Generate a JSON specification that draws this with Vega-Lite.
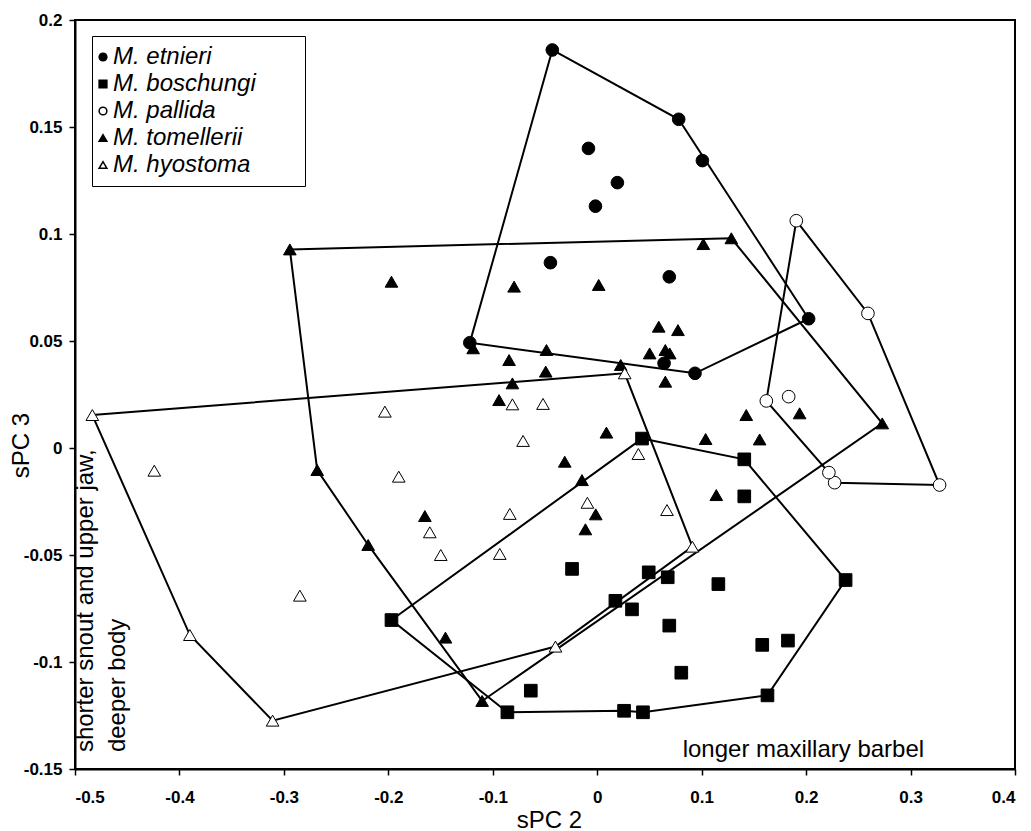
{
  "$schema": "https://vega.github.io/schema/vega-lite/v6.json",
  "width": 940,
  "height": 749,
  "autosize": {"type": "none"},
  "padding": {"left": 75, "top": 20, "right": 16, "bottom": 62},
  "background": "white",
  "config": {
    "view": {"stroke": "black", "strokeWidth": 2},
    "axis": {
      "grid": false,
      "domainColor": "black",
      "domainWidth": 2,
      "tickColor": "black",
      "tickWidth": 1.5,
      "tickSize": 6,
      "labelFont": "Liberation Sans",
      "labelFontWeight": "bold",
      "labelFontSize": 17,
      "labelColor": "black",
      "titleFont": "Liberation Sans",
      "titleFontSize": 24,
      "titleFontWeight": "normal",
      "titleColor": "black"
    },
    "axisX": {"labelBaseline": "alphabetic", "labelPadding": 27, "titleX": 474, "titleY": 58, "titleBaseline": "alphabetic", "titleAlign": "center"},
    "axisY": {"labelPadding": 7, "titleX": -47, "titleY": 425, "titleBaseline": "alphabetic", "titleAngle": 270, "titleAlign": "center"}
  },
  "datasets": {
    "points": [
      {"species": "M. etnieri", "x": -0.043, "y": 0.186},
      {"species": "M. etnieri", "x": 0.078, "y": 0.1536},
      {"species": "M. etnieri", "x": 0.1007, "y": 0.1343},
      {"species": "M. etnieri", "x": -0.0084, "y": 0.140},
      {"species": "M. etnieri", "x": 0.0193, "y": 0.124},
      {"species": "M. etnieri", "x": -0.0017, "y": 0.113},
      {"species": "M. etnieri", "x": -0.0448, "y": 0.0866},
      {"species": "M. etnieri", "x": 0.069, "y": 0.080},
      {"species": "M. etnieri", "x": 0.2024, "y": 0.0604},
      {"species": "M. etnieri", "x": -0.122, "y": 0.0492},
      {"species": "M. etnieri", "x": 0.0936, "y": 0.0349},
      {"species": "M. etnieri", "x": 0.064, "y": 0.0396},
      {"species": "M. boschungi", "x": 0.0429, "y": 0.0044},
      {"species": "M. boschungi", "x": 0.1408, "y": -0.0053},
      {"species": "M. boschungi", "x": 0.1408, "y": -0.0226},
      {"species": "M. boschungi", "x": -0.0241, "y": -0.0565},
      {"species": "M. boschungi", "x": 0.0493, "y": -0.0581},
      {"species": "M. boschungi", "x": 0.0675, "y": -0.0604},
      {"species": "M. boschungi", "x": 0.116, "y": -0.0636},
      {"species": "M. boschungi", "x": 0.0174, "y": -0.0714},
      {"species": "M. boschungi", "x": 0.0333, "y": -0.0754},
      {"species": "M. boschungi", "x": 0.069, "y": -0.083},
      {"species": "M. boschungi", "x": 0.158, "y": -0.092},
      {"species": "M. boschungi", "x": 0.1826, "y": -0.090},
      {"species": "M. boschungi", "x": 0.0805, "y": -0.105},
      {"species": "M. boschungi", "x": -0.0636, "y": -0.1134},
      {"species": "M. boschungi", "x": -0.197, "y": -0.0804},
      {"species": "M. boschungi", "x": -0.086, "y": -0.1235},
      {"species": "M. boschungi", "x": 0.0257, "y": -0.1228},
      {"species": "M. boschungi", "x": 0.0438, "y": -0.1235},
      {"species": "M. boschungi", "x": 0.2378, "y": -0.0617},
      {"species": "M. boschungi", "x": 0.163, "y": -0.1156},
      {"species": "M. pallida", "x": 0.1906, "y": 0.1062},
      {"species": "M. pallida", "x": 0.2592, "y": 0.0629},
      {"species": "M. pallida", "x": 0.3278, "y": -0.0173},
      {"species": "M. pallida", "x": 0.2273, "y": -0.0162},
      {"species": "M. pallida", "x": 0.2218, "y": -0.0115},
      {"species": "M. pallida", "x": 0.1619, "y": 0.022},
      {"species": "M. pallida", "x": 0.1833, "y": 0.024},
      {"species": "M. tomellerii", "x": -0.2943, "y": 0.0928},
      {"species": "M. tomellerii", "x": -0.197, "y": 0.0777},
      {"species": "M. tomellerii", "x": -0.2681, "y": -0.0103},
      {"species": "M. tomellerii", "x": -0.165, "y": -0.0318},
      {"species": "M. tomellerii", "x": -0.2193, "y": -0.0453},
      {"species": "M. tomellerii", "x": -0.1453, "y": -0.0886},
      {"species": "M. tomellerii", "x": -0.1102, "y": -0.1182},
      {"species": "M. tomellerii", "x": 0.1016, "y": 0.0953},
      {"species": "M. tomellerii", "x": 0.1284, "y": 0.098},
      {"species": "M. tomellerii", "x": -0.0796, "y": 0.0754},
      {"species": "M. tomellerii", "x": 0.0014, "y": 0.0762},
      {"species": "M. tomellerii", "x": 0.0589, "y": 0.0567},
      {"species": "M. tomellerii", "x": 0.0773, "y": 0.0551},
      {"species": "M. tomellerii", "x": -0.1188, "y": 0.0466},
      {"species": "M. tomellerii", "x": -0.0486, "y": 0.0458},
      {"species": "M. tomellerii", "x": -0.0844, "y": 0.0411},
      {"species": "M. tomellerii", "x": 0.0502, "y": 0.0442},
      {"species": "M. tomellerii", "x": 0.0652, "y": 0.0458},
      {"species": "M. tomellerii", "x": 0.0694, "y": 0.0442},
      {"species": "M. tomellerii", "x": 0.0225, "y": 0.0388},
      {"species": "M. tomellerii", "x": -0.0493, "y": 0.0357},
      {"species": "M. tomellerii", "x": -0.0812, "y": 0.0302},
      {"species": "M. tomellerii", "x": 0.0652, "y": 0.031},
      {"species": "M. tomellerii", "x": -0.094, "y": 0.0224},
      {"species": "M. tomellerii", "x": 0.1427, "y": 0.0154},
      {"species": "M. tomellerii", "x": 0.1038, "y": 0.0042},
      {"species": "M. tomellerii", "x": 0.1555, "y": 0.004},
      {"species": "M. tomellerii", "x": 0.0088, "y": 0.0072},
      {"species": "M. tomellerii", "x": -0.0311, "y": -0.0064},
      {"species": "M. tomellerii", "x": -0.0146, "y": -0.015},
      {"species": "M. tomellerii", "x": 0.114, "y": -0.022},
      {"species": "M. tomellerii", "x": -0.0014, "y": -0.031},
      {"species": "M. tomellerii", "x": -0.0113, "y": -0.038},
      {"species": "M. tomellerii", "x": 0.1938, "y": 0.0162},
      {"species": "M. tomellerii", "x": 0.2729, "y": 0.0115},
      {"species": "M. hyostoma", "x": -0.4834, "y": 0.0154},
      {"species": "M. hyostoma", "x": -0.4241, "y": -0.0106},
      {"species": "M. hyostoma", "x": -0.2033, "y": 0.017},
      {"species": "M. hyostoma", "x": -0.19, "y": -0.0134},
      {"species": "M. hyostoma", "x": -0.390, "y": -0.0874},
      {"species": "M. hyostoma", "x": -0.3108, "y": -0.1274},
      {"species": "M. hyostoma", "x": -0.2847, "y": -0.069},
      {"species": "M. hyostoma", "x": -0.1603, "y": -0.0394},
      {"species": "M. hyostoma", "x": -0.1498, "y": -0.05},
      {"species": "M. hyostoma", "x": -0.0837, "y": -0.0308},
      {"species": "M. hyostoma", "x": -0.0933, "y": -0.0495},
      {"species": "M. hyostoma", "x": -0.040, "y": -0.0928},
      {"species": "M. hyostoma", "x": -0.0812, "y": 0.0204},
      {"species": "M. hyostoma", "x": -0.0519, "y": 0.0206},
      {"species": "M. hyostoma", "x": -0.071, "y": 0.0033},
      {"species": "M. hyostoma", "x": 0.0394, "y": -0.0028},
      {"species": "M. hyostoma", "x": -0.0094, "y": -0.0256},
      {"species": "M. hyostoma", "x": 0.0668, "y": -0.029},
      {"species": "M. hyostoma", "x": 0.0911, "y": -0.0461},
      {"species": "M. hyostoma", "x": 0.0263, "y": 0.0349}
    ],
    "hulls": [
      {"species": "M. etnieri", "vertex": 1, "x": -0.043, "y": 0.186},
      {"species": "M. etnieri", "vertex": 2, "x": 0.078, "y": 0.1536},
      {"species": "M. etnieri", "vertex": 3, "x": 0.2024, "y": 0.0604},
      {"species": "M. etnieri", "vertex": 4, "x": 0.0936, "y": 0.0349},
      {"species": "M. etnieri", "vertex": 5, "x": -0.122, "y": 0.0492},
      {"species": "M. etnieri", "vertex": 6, "x": -0.043, "y": 0.186},
      {"species": "M. boschungi", "vertex": 1, "x": 0.0429, "y": 0.0044},
      {"species": "M. boschungi", "vertex": 2, "x": 0.1408, "y": -0.0053},
      {"species": "M. boschungi", "vertex": 3, "x": 0.2378, "y": -0.0617},
      {"species": "M. boschungi", "vertex": 4, "x": 0.163, "y": -0.1156},
      {"species": "M. boschungi", "vertex": 5, "x": 0.0438, "y": -0.1235},
      {"species": "M. boschungi", "vertex": 6, "x": 0.0257, "y": -0.1228},
      {"species": "M. boschungi", "vertex": 7, "x": -0.086, "y": -0.1235},
      {"species": "M. boschungi", "vertex": 8, "x": -0.197, "y": -0.0804},
      {"species": "M. boschungi", "vertex": 9, "x": 0.0429, "y": 0.0044},
      {"species": "M. pallida", "vertex": 1, "x": 0.1906, "y": 0.1062},
      {"species": "M. pallida", "vertex": 2, "x": 0.2592, "y": 0.0629},
      {"species": "M. pallida", "vertex": 3, "x": 0.3278, "y": -0.0173},
      {"species": "M. pallida", "vertex": 4, "x": 0.2273, "y": -0.0162},
      {"species": "M. pallida", "vertex": 5, "x": 0.2218, "y": -0.0115},
      {"species": "M. pallida", "vertex": 6, "x": 0.1619, "y": 0.022},
      {"species": "M. pallida", "vertex": 7, "x": 0.1906, "y": 0.1062},
      {"species": "M. tomellerii", "vertex": 1, "x": -0.2943, "y": 0.0928},
      {"species": "M. tomellerii", "vertex": 2, "x": 0.1284, "y": 0.098},
      {"species": "M. tomellerii", "vertex": 3, "x": 0.2729, "y": 0.0115},
      {"species": "M. tomellerii", "vertex": 4, "x": -0.1102, "y": -0.1182},
      {"species": "M. tomellerii", "vertex": 5, "x": -0.2193, "y": -0.0453},
      {"species": "M. tomellerii", "vertex": 6, "x": -0.2681, "y": -0.0103},
      {"species": "M. tomellerii", "vertex": 7, "x": -0.2943, "y": 0.0928},
      {"species": "M. hyostoma", "vertex": 1, "x": -0.4834, "y": 0.0154},
      {"species": "M. hyostoma", "vertex": 2, "x": 0.0263, "y": 0.0349},
      {"species": "M. hyostoma", "vertex": 3, "x": 0.0911, "y": -0.0461},
      {"species": "M. hyostoma", "vertex": 4, "x": -0.040, "y": -0.0928},
      {"species": "M. hyostoma", "vertex": 5, "x": -0.3108, "y": -0.1274},
      {"species": "M. hyostoma", "vertex": 6, "x": -0.390, "y": -0.0874},
      {"species": "M. hyostoma", "vertex": 7, "x": -0.4834, "y": 0.0154}
    ]
  },
  "layer": [
    {
      "data": {"name": "hulls"},
      "mark": {"type": "line", "color": "black", "strokeWidth": 2},
      "encoding": {
        "x": {"field": "x", "type": "quantitative", "scale": {"domain": [-0.5, 0.4], "nice": false, "zero": false}, "axis": {"values": [-0.5, -0.4, -0.3, -0.2, -0.1, 0, 0.1, 0.2, 0.3, 0.4], "labelExpr": "toString(datum.value)"}, "title": "sPC 2"},
        "y": {"field": "y", "type": "quantitative", "scale": {"domain": [-0.15, 0.2], "nice": false, "zero": false}, "axis": {"values": [-0.15, -0.1, -0.05, 0, 0.05, 0.1, 0.15, 0.2], "labelExpr": "toString(datum.value)"}, "title": "sPC 3"},
        "detail": {"field": "species"},
        "order": {"field": "vertex", "type": "quantitative"}
      }
    },
    {
      "data": {"name": "points"},
      "mark": {"type": "point", "filled": true, "stroke": "black", "strokeWidth": 1, "opacity": 1, "size": 160},
      "encoding": {
        "x": {"field": "x", "type": "quantitative"},
        "y": {"field": "y", "type": "quantitative"},
        "shape": {
          "field": "species", "type": "nominal", "title": null,
          "scale": {"domain": ["M. etnieri", "M. boschungi", "M. pallida", "M. tomellerii", "M. hyostoma"], "range": ["circle", "square", "circle", "triangle-up", "triangle-up"]},
          "legend": {
            "orient": "none", "legendX": 17, "legendY": 16,
            "strokeColor": "black", "fillColor": "white", "padding": 9,
            "labelFont": "Liberation Sans", "labelFontStyle": "italic", "labelFontSize": 24, "labelColor": "black",
            "labelOffset": -2, "symbolOffset": -10, "rowPadding": 3, "symbolSize": 60, "labelLimit": 400,
            "labelExpr": "datum.label + '\u00a0\u00a0\u00a0\u00a0\u00a0\u00a0\u200b'",
            "encode": {"symbols": {"update": {"stroke": {"value": "black"}, "strokeWidth": {"value": 1}}}}
          }
        },
        "fill": {
          "field": "species", "type": "nominal", "title": null,
          "scale": {"domain": ["M. etnieri", "M. boschungi", "M. pallida", "M. tomellerii", "M. hyostoma"], "range": ["black", "black", "white", "black", "white"]},
          "legend": {
            "orient": "none", "legendX": 17, "legendY": 16,
            "strokeColor": "black", "fillColor": "white", "padding": 9,
            "labelFont": "Liberation Sans", "labelFontStyle": "italic", "labelFontSize": 24, "labelColor": "black",
            "labelOffset": -2, "symbolOffset": -10, "rowPadding": 3, "symbolSize": 60, "labelLimit": 400,
            "labelExpr": "datum.label + '\u00a0\u00a0\u00a0\u00a0\u00a0\u00a0\u200b'",
            "encode": {"symbols": {"update": {"stroke": {"value": "black"}, "strokeWidth": {"value": 1}}}}
          }
        }
      }
    },
    {
      "data": {"values": [{"x": 0.0818, "y": -0.1444, "note": "longer maxillary barbel"}]},
      "mark": {"type": "text", "align": "left", "baseline": "alphabetic", "font": "Liberation Sans", "fontSize": 24, "color": "black"},
      "encoding": {
        "x": {"field": "x", "type": "quantitative"},
        "y": {"field": "y", "type": "quantitative"},
        "text": {"field": "note"}
      }
    },
    {
      "data": {"values": [
        {"x": -0.4828, "y": -0.1421, "note": "shorter snout and upper jaw,"},
        {"x": -0.4522, "y": -0.1421, "note": "deeper body"}
      ]},
      "mark": {"type": "text", "align": "left", "baseline": "alphabetic", "angle": 270, "font": "Liberation Sans", "fontSize": 24, "color": "black"},
      "encoding": {
        "x": {"field": "x", "type": "quantitative"},
        "y": {"field": "y", "type": "quantitative"},
        "text": {"field": "note"}
      }
    }
  ]
}
